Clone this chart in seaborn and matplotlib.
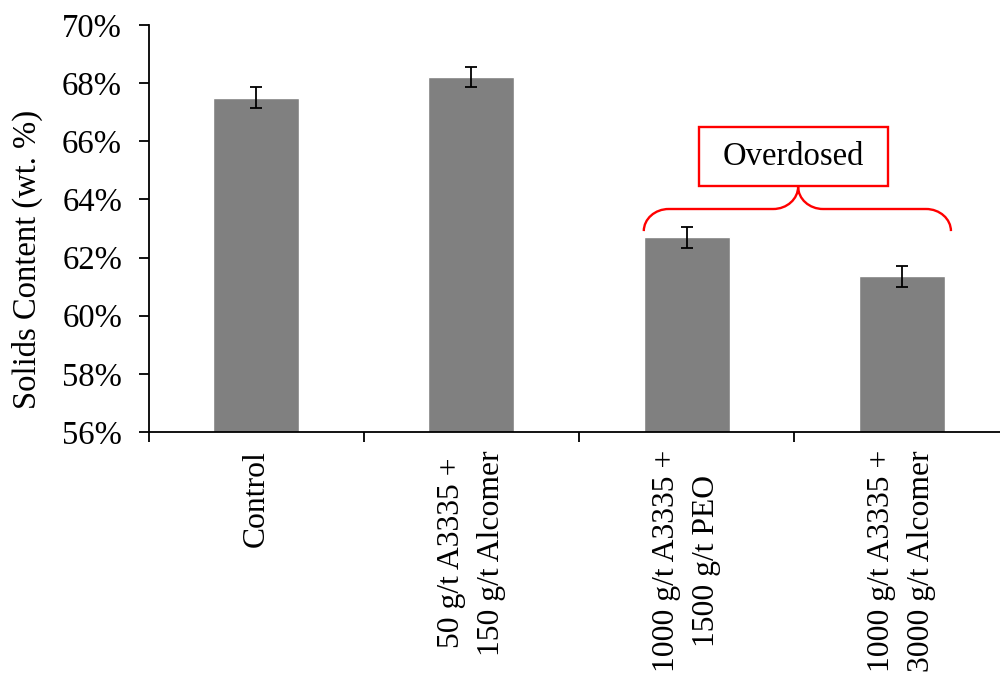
import matplotlib
matplotlib.use("Agg")
import matplotlib.pyplot as plt
import seaborn as sns
import pandas as pd
from matplotlib.path import Path
from matplotlib.patches import PathPatch, Rectangle

categories = ["Control", "50 g/t A3335 +\n150 g/t Alcomer",
              "1000 g/t A3335 +\n1500 g/t PEO", "1000 g/t A3335 +\n3000 g/t Alcomer"]
solids = [67.50, 68.20, 62.70, 61.35]
errors = [0.36, 0.35, 0.36, 0.36]
yticks = [56, 58, 60, 62, 64, 66, 68, 70]
ytick_labels = [f"{v}%" for v in yticks]
annotation = "Overdosed"
ylabel = "Solids Content (wt. %)"

sns.set_theme(style="white")
plt.rcParams["font.family"] = ["Liberation Serif", "DejaVu Serif"]
plt.rcParams.update({"text.color": "black", "axes.labelcolor": "black",
                     "xtick.color": "black", "ytick.color": "black"})
FS = 23.5
FSX = 22.8

fig = plt.figure(figsize=(10, 6.74), dpi=100)
ax = fig.add_axes([0.1485, 0.359, 0.861, 0.604])

df = pd.DataFrame({"cat": categories, "val": solids})
sns.barplot(data=df, x="cat", y="val", color="#808080", width=0.4,
            saturation=1, errorbar=None, ax=ax)
ax.errorbar(range(len(categories)), solids, yerr=errors, fmt="none",
            ecolor="black", elinewidth=1.3, capsize=4.3, capthick=1.3, zorder=5)

ax.set_xlim(-0.5, 3.5)
ax.set_ylim(56, 70)
ax.set_yticks(yticks)
ax.set_yticklabels(ytick_labels, fontsize=FS)
ax.set_xticks(range(len(categories)))
ax.set_xticklabels(categories, rotation=90, ha="center", va="top",
                   multialignment="center", linespacing=1.5, fontsize=FSX)
ax.set_xticks([-0.5, 0.5, 1.5, 2.5, 3.5], minor=True)
ax.tick_params(axis="x", which="major", bottom=True, length=0, pad=13)
ax.tick_params(axis="x", which="minor", bottom=True, length=7, width=1.3,
               direction="out", color="black")
ax.tick_params(axis="y", left=True, length=7, width=1.3, pad=12,
               direction="out", color="black")
for s in ["top", "right"]:
    ax.spines[s].set_visible(False)
for s in ["left", "bottom"]:
    ax.spines[s].set_color("black")
    ax.spines[s].set_linewidth(1.3)
ax.set_xlabel("")
ax.set_ylabel(ylabel, fontsize=FS)
ax.yaxis.label.set_va("center")
ax.yaxis.set_label_coords(-0.141, 0.425)

# brace
xL, xM, xR = 1.801, 2.518, 3.228
yB, yH, yT = 62.91, 63.67, 64.44
rx = 0.116
k = 0.5523
verts = [
    (xL, yB),
    (xL, yB + k * (yH - yB)), (xL + rx - k * rx, yH), (xL + rx, yH),
    (xM - rx, yH),
    (xM - rx + k * rx, yH), (xM, yT - k * (yT - yH)), (xM, yT),
    (xM, yT - k * (yT - yH)), (xM + rx - k * rx, yH), (xM + rx, yH),
    (xR - rx, yH),
    (xR - rx + k * rx, yH), (xR, yB + k * (yH - yB)), (xR, yB),
]
codes = [Path.MOVETO, Path.CURVE4, Path.CURVE4, Path.CURVE4, Path.LINETO,
         Path.CURVE4, Path.CURVE4, Path.CURVE4,
         Path.CURVE4, Path.CURVE4, Path.CURVE4, Path.LINETO,
         Path.CURVE4, Path.CURVE4, Path.CURVE4]
ax.add_patch(PathPatch(Path(verts, codes), facecolor="none", edgecolor="red",
                       lw=1.7, zorder=6))
ax.add_patch(Rectangle((2.057, 64.47), 0.879, 2.02, facecolor="white",
                       edgecolor="red", lw=1.7, zorder=6))
ax.text(2.4965, 65.48, annotation, ha="center", va="center", fontsize=FS,
        color="black", zorder=7)

fig.savefig("out.png", dpi=100)
